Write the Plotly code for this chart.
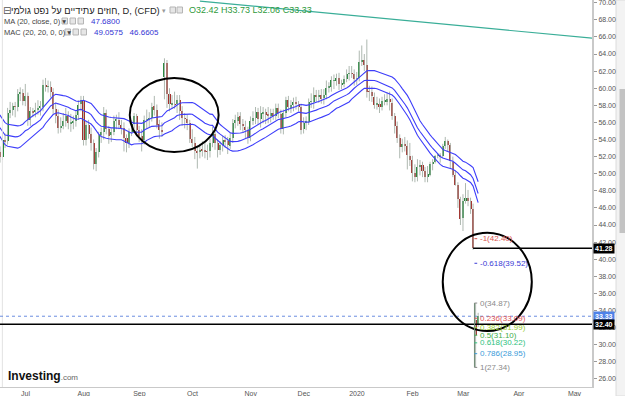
import pandas as pd
import plotly.graph_objects as go

# ---------------- data ----------------
start_day, end_day = "2019-05-17", "2020-03-10"
closed_days = ["2019-12-25", "2020-01-01"]
trade_days = [d for d in pd.bdate_range(start_day, end_day)
              if d.strftime("%Y-%m-%d") not in closed_days]

opens = [
    62.9, 62.8, 63.2, 62.9, 61.3, 57.8, 58.7, 58.9, 59.1, 58.8, 56.4,
    53.4, 53.3, 53.4, 51.6, 52.6, 54.0, 53.2, 53.0, 51.2, 52.3, 52.5, 52.0, 53.9, 53.8, 57.1, 57.5, 57.9, 57.8, 59.4, 59.4,
    58.5, 59.1, 56.3, 57.3, 57.2, 57.5, 57.7, 57.8, 60.4, 60.2, 60.2, 59.6, 57.6, 56.8, 55.3, 55.6, 56.2, 56.8, 55.9, 56.0, 56.2, 56.9, 58.1,
    58.5, 54.0, 55.7, 54.7, 53.6, 51.1, 52.5, 54.5, 54.9, 57.1, 55.2, 54.5, 54.9, 56.2, 56.3, 55.7, 55.4, 54.2, 53.6, 54.9, 55.8, 56.7,
    55.1, 54.4, 53.9, 56.3, 56.3, 56.5, 57.9, 57.4, 55.8, 55.1, 61.3, 62.9, 59.3, 58.1, 58.1, 58.1, 58.6, 57.3, 56.5, 56.4, 55.9,
    54.1, 53.6, 52.6, 52.5, 52.8, 52.8, 52.6, 52.6, 53.6, 54.7, 53.6, 52.8, 53.4, 53.9, 53.8, 53.3, 54.2, 56.0, 56.2, 56.7, 55.8, 55.5, 55.1,
    54.2, 56.2, 56.5, 57.2, 56.4, 57.1, 57.2, 56.9, 56.8, 57.1, 56.8, 57.7, 57.0, 55.2, 57.1, 58.6, 57.8, 58.0, 58.4, 58.1, 57.8,
    55.2, 56.0, 56.1, 58.4, 58.4, 59.2, 59.0, 59.2, 58.8, 59.2, 60.1, 60.2, 60.9, 60.9, 61.2, 60.4, 60.5, 61.1, 61.7, 61.7, 61.7,
    61.1, 61.2, 63.1, 63.3, 62.7, 59.6, 59.6, 59.0, 58.1, 58.2, 57.8, 58.5, 58.5, 58.7, 58.3, 56.7, 55.6, 54.2, 53.1, 53.5, 53.3, 52.1,
    51.6, 50.1, 49.6, 50.8, 51.0, 50.3, 49.6, 49.9, 51.2, 51.4, 52.1, 52.2, 52.1, 53.3, 53.8, 53.4, 51.4, 49.9, 48.7, 47.1,
    44.8, 46.8, 47.2, 46.8, 45.9, 32.9, 32.42,
]
highs = [
    63.6, 63.9, 63.9, 63.3, 61.7, 59.4, 59.5, 60.1, 59.6, 59.3, 56.8,
    54.5, 54.3, 53.9, 53.1, 54.7, 55.1, 53.9, 53.6, 53.8, 53.3, 53.2, 55.0, 54.7, 57.7, 58.4, 58.3, 58.4, 59.9, 60.1, 59.9,
    60.5, 59.5, 57.8, 57.7, 58.3, 58.6, 58.5, 61.0, 61.2, 60.9, 60.8, 60.0, 58.3, 57.5, 56.6, 57.1, 57.7, 57.3, 57.0, 56.8, 57.4, 58.6, 59.1,
    59.1, 56.2, 56.3, 55.4, 54.0, 53.0, 54.9, 55.4, 57.8, 57.5, 55.6, 55.3, 56.8, 56.9, 57.2, 56.3, 56.0, 54.6, 55.3, 56.3, 57.1, 57.0,
    55.6, 55.2, 56.8, 57.5, 57.2, 58.3, 59.1, 58.1, 56.3, 56.0, 63.5, 63.3, 60.0, 59.2, 59.6, 59.2, 59.2, 57.9, 57.1, 56.9, 56.3,
    55.2, 54.3, 53.2, 53.5, 53.8, 53.7, 53.4, 54.1, 55.5, 55.1, 54.0, 53.8, 54.4, 54.5, 54.3, 54.8, 56.4, 56.9, 57.2, 57.2, 56.4, 56.2, 55.5,
    56.7, 57.3, 57.8, 57.7, 57.9, 57.8, 57.6, 57.8, 57.6, 57.6, 58.2, 58.2, 57.5, 57.5, 59.0, 59.1, 58.6, 58.9, 59.0, 58.5, 58.2,
    56.6, 56.7, 58.8, 59.4, 60.1, 59.8, 59.8, 59.9, 59.9, 60.9, 60.7, 61.4, 61.6, 61.7, 61.8, 61.0, 61.5, 62.2, 62.6, 62.6, 62.2,
    61.9, 64.4, 65.0, 64.0, 65.7, 60.3, 60.2, 59.5, 59.0, 58.8, 59.0, 59.3, 59.5, 59.6, 58.8, 57.1, 56.1, 54.6, 54.1, 54.3, 53.9, 53.6,
    52.1, 51.1, 51.7, 51.6, 51.4, 50.8, 50.9, 51.4, 51.7, 52.2, 52.4, 52.4, 53.5, 54.3, 54.0, 53.6, 52.0, 50.4, 49.0, 47.3,
    47.6, 48.9, 48.1, 47.2, 46.5, 34.87, 33.73,
]
lows = [
    62.0, 62.1, 62.3, 60.9, 57.1, 57.3, 58.1, 58.3, 57.9, 56.1, 52.9,
    51.9, 52.0, 50.3, 50.3, 52.1, 52.9, 52.1, 50.4, 50.7, 51.6, 51.3, 51.6, 53.0, 53.4, 56.5, 56.8, 56.6, 57.3, 58.5, 58.0,
    57.9, 55.6, 55.6, 56.6, 56.6, 56.9, 56.8, 57.3, 59.6, 59.5, 58.9, 57.0, 55.9, 54.7, 54.8, 55.2, 55.5, 55.2, 54.9, 55.2, 55.5, 56.3, 57.3,
    53.3, 53.3, 54.1, 52.7, 50.5, 50.3, 51.9, 53.6, 54.0, 54.6, 53.5, 53.7, 54.5, 55.2, 55.2, 54.6, 52.6, 52.5, 53.0, 54.4, 55.2, 54.5,
    53.7, 52.6, 53.4, 55.3, 55.4, 56.1, 56.8, 55.3, 54.1, 54.3, 58.7, 57.7, 57.3, 57.6, 57.6, 57.1, 56.3, 55.6, 55.3, 55.1, 53.6,
    53.1, 51.7, 50.6, 51.8, 52.0, 51.8, 51.6, 51.9, 53.1, 52.8, 51.9, 52.2, 52.6, 53.0, 52.3, 52.9, 53.6, 55.3, 55.6, 55.1, 54.8, 54.1, 53.5,
    53.8, 55.7, 55.8, 55.7, 55.4, 55.9, 55.8, 55.9, 56.0, 56.3, 56.3, 56.5, 54.7, 54.6, 56.6, 57.3, 57.1, 57.3, 57.5, 57.3, 54.6,
    54.7, 55.1, 55.7, 57.7, 57.6, 58.4, 58.3, 58.2, 58.1, 58.7, 59.5, 59.6, 59.9, 60.3, 59.8, 59.9, 60.1, 60.7, 60.9, 61.2, 60.3,
    60.4, 60.8, 62.6, 62.0, 58.9, 58.5, 58.4, 57.6, 57.5, 57.1, 57.4, 58.0, 58.0, 57.4, 56.3, 54.7, 53.6, 51.8, 52.5, 52.6, 50.5, 50.9,
    49.1, 49.0, 49.1, 49.8, 49.6, 49.0, 49.0, 49.7, 50.4, 51.2, 51.8, 51.3, 51.9, 52.9, 52.6, 50.6, 49.6, 48.6, 46.0, 44.0,
    43.3, 46.5, 46.2, 45.3, 41.1, 27.34, 32.06,
]
closes = [
    62.76, 63.10, 62.99, 61.42, 57.91, 58.63, 58.90, 59.14, 58.81, 56.59, 53.50,
    53.25, 53.48, 51.68, 52.59, 53.99, 53.26, 53.27, 51.14, 52.28, 52.51, 51.93, 53.90, 53.76, 57.07, 57.43, 57.90, 57.83, 59.38, 59.43, 58.47,
    59.09, 56.25, 57.34, 57.20, 57.51, 57.66, 57.83, 60.43, 60.20, 60.21, 59.58, 57.62, 56.78, 55.30, 55.63, 56.22, 56.77, 55.88, 56.02, 56.20, 56.87, 58.05, 58.58,
    53.95, 55.66, 54.69, 53.63, 51.09, 52.54, 54.50, 54.93, 57.10, 55.23, 54.47, 54.87, 56.21, 56.34, 55.68, 55.35, 54.17, 53.64, 54.93, 55.78, 56.71, 55.10,
    54.40, 53.94, 56.26, 56.30, 56.52, 57.85, 57.40, 55.75, 55.09, 54.85, 62.90, 59.34, 58.11, 58.13, 58.09, 58.64, 57.29, 56.49, 56.41, 55.91, 54.07,
    53.62, 52.64, 52.45, 52.81, 52.75, 52.63, 52.59, 53.55, 54.70, 53.59, 52.81, 53.36, 53.93, 53.78, 53.31, 54.16, 55.97, 56.23, 56.66, 55.81, 55.54, 55.06, 54.18,
    56.20, 56.54, 57.23, 56.35, 57.15, 57.24, 56.86, 56.80, 57.12, 56.77, 57.72, 57.05, 55.21, 57.11, 58.58, 57.77, 58.01, 58.41, 58.11, 57.80, 55.17,
    55.96, 56.10, 58.43, 58.43, 59.20, 59.02, 59.24, 58.76, 59.18, 60.07, 60.21, 60.94, 60.93, 61.22, 60.44, 60.52, 61.11, 61.68, 61.72, 61.68, 61.06,
    61.18, 63.05, 63.27, 62.70, 59.61, 59.56, 59.04, 58.08, 58.23, 57.81, 58.52, 58.54, 58.70, 58.34, 56.74, 55.59, 54.19, 53.14, 53.48, 53.33, 52.14, 51.56,
    50.11, 49.61, 50.75, 50.95, 50.32, 49.57, 49.94, 51.17, 51.42, 52.05, 52.20, 52.05, 53.29, 53.78, 53.38, 51.43, 49.90, 48.73, 47.09, 44.76,
    46.75, 47.18, 46.78, 45.90, 41.28, 31.13, 33.33,
]
assert len(trade_days) == len(opens) == len(highs) == len(lows) == len(closes)

ma_period = 20
month_starts = ["2019-07-01", "2019-08-01", "2019-09-02", "2019-10-01", "2019-11-01",
                "2019-12-02", "2020-01-02", "2020-02-03", "2020-03-02", "2020-04-01", "2020-05-01"]
month_labels = ["Jul", "Aug", "Sep", "Oct", "Nov", "Dec", "2020", "Feb", "Mar", "Apr", "May"]

x_range = ["2019-06-17 12:00", "2020-05-12 12:00"]
y_range = [25.05, 70.32]

# drawings on the chart
hline_black = [32.40, 41.28]
hline_41_start = "2020-03-06 12:00"
last_price = 33.33
trend_dates = ["2019-10-04 12:00", "2020-05-12 12:00"]
trend_values = [70.2, 65.85]
fib_high, fib_low = 34.87, 27.34
fib_ratios = [-1, -0.618, 0, 0.236, 0.382, 0.5, 0.618, 0.786, 1]
fib_colors = ["#d9534f", "#3a3ad6", "#8a8a8a", "#e05555", "#9acd32", "#3fae49",
              "#2ec27e", "#3a9bd9", "#8a8a8a"]
ellipse1 = dict(x0="2019-08-27 19:00", x1="2019-10-15 22:00", y0=52.54, y1=61.2)
ellipse2 = dict(x0="2020-02-19 12:00", x1="2020-04-08 17:00", y0=31.6, y1=43.1)

# ---------------- derived ----------------
df = pd.DataFrame(dict(d=trade_days, o=opens, h=highs, l=lows, c=closes))
df["x"] = df["d"] + pd.Timedelta(hours=12)
df["ma"] = df["c"].rolling(ma_period).mean()
df["mh"] = df["h"].rolling(ma_period).mean()
df["ml"] = df["l"].rolling(ma_period).mean()
up = df["c"] >= df["o"]
body_base = df[["o", "c"]].min(axis=1)
body_h = (df["c"] - df["o"]).abs().clip(lower=0.06)

wx, wy = [], []
for xv, lo, hi in zip(df["x"], df["l"], df["h"]):
    wx += [xv, xv, None]
    wy += [lo, hi, None]

day_ms = 86400000
fig = go.Figure()
fig.add_trace(go.Scatter(x=wx, y=wy, mode="lines", line=dict(color="#aeb8b0", width=1),
                         hoverinfo="skip", showlegend=False))
fig.add_trace(go.Bar(x=df["x"][up], y=body_h[up], base=body_base[up], width=0.8 * day_ms,
                     marker=dict(color="#23873a", line=dict(width=0)), showlegend=False))
fig.add_trace(go.Bar(x=df["x"][~up], y=body_h[~up], base=body_base[~up], width=0.8 * day_ms,
                     marker=dict(color="#a3302c", line=dict(width=0)), showlegend=False))
for col in ["mh", "ma", "ml"]:
    fig.add_trace(go.Scatter(x=df["x"], y=df[col], mode="lines",
                             line=dict(color="#3d3dfa", width=1.1), showlegend=False))
fig.add_trace(go.Scatter(x=trend_dates, y=trend_values, mode="lines",
                         line=dict(color="#3aae98", width=1.2), showlegend=False))

font = "Liberation Sans, Arial, DejaVu Sans, sans-serif"
shapes = []
shapes.append(dict(type="line", xref="paper", yref="paper", x0=0.004, x1=0.004, y0=0, y1=1,
                   line=dict(color="#e2e2e2", width=1)))
shapes.append(dict(type="line", xref="paper", yref="y", x0=0, x1=1, y0=last_price, y1=last_price,
                   line=dict(color="#6b8ee0", width=1, dash="dot")))
shapes.append(dict(type="line", xref="paper", yref="y", x0=0, x1=1, y0=hline_black[0], y1=hline_black[0],
                   line=dict(color="#000000", width=1.5)))
shapes.append(dict(type="line", xref="x", yref="y", x0=hline_41_start, x1=x_range[1],
                   y0=hline_black[1], y1=hline_black[1], line=dict(color="#000000", width=1.5)))
for e in (ellipse1, ellipse2):
    shapes.append(dict(type="circle", xref="x", yref="y", **e, line=dict(color="#000000", width=2)))

fib_levels = [fib_high - r * (fib_high - fib_low) for r in fib_ratios]
shapes.append(dict(type="line", xref="x", yref="y", x0="2020-03-09 01:00", x1="2020-03-09 01:00",
                   y0=fib_high, y1=fib_low, line=dict(color="#6f8a74", width=1)))
annotations = []
for r, lv, colr in zip(fib_ratios, fib_levels, fib_colors):
    shapes.append(dict(type="line", xref="x", yref="y", x0="2020-03-09 01:00", x1="2020-03-10 03:00",
                       y0=lv, y1=lv, line=dict(color=colr, width=1)))
    annotations.append(dict(x="2020-03-10 08:00", y=lv, xref="x", yref="y", xanchor="left",
                            yanchor="middle", showarrow=False, text=f"{r:g}({lv:.2f})",
                            font=dict(family=font, size=8, color=colr)))

for val, bg in ((hline_black[1], "#000000"), (last_price, "#4f82e8"), (hline_black[0], "#000000")):
    annotations.append(dict(x=1, y=val, xref="paper", yref="y", xanchor="left", yanchor="middle",
                            xshift=1, showarrow=False, text=f"<b>{val:.2f}</b>", bgcolor=bg,
                            borderpad=1, font=dict(family=font, size=7, color="#ffffff")))

W, H = 592.0, 387.0
def px(x):
    return x / W
def py(y):
    return 1 - y / H
shapes.append(dict(type="rect", xref="paper", yref="paper", x0=px(616), x1=px(626), y0=py(396), y1=py(0),
                   fillcolor="#f3f3f3", line=dict(color="#dcdcdc", width=1), layer="below"))
shapes.append(dict(type="rect", xref="paper", yref="paper", x0=px(619.5), x1=px(626), y0=py(233), y1=py(89),
                   fillcolor="#c3c3c3", line=dict(width=0)))

for (x0, yc) in [(170, 10), (177, 10), (62, 21), (70, 21), (78, 21), (65, 32), (73, 32), (81, 32)]:
    shapes.append(dict(type="rect", xref="paper", yref="paper", x0=px(x0), x1=px(x0 + 5.5),
                       y0=py(yc + 3), y1=py(yc - 3), fillcolor="#e6e6e6",
                       line=dict(color="#b5b5b5", width=1)))

def header(text, xpx, ypx, size, color):
    annotations.append(dict(x=0, y=1, xref="paper", yref="paper", xshift=xpx, yshift=-ypx,
                            xanchor="left", yanchor="middle", showarrow=False, text=text,
                            font=dict(family=font, size=size, color=color)))

header("⊟", 1, 10, 10, "#555555")
header("חוזים עתידיים על נפט גולמי, D, (CFD)", 9, 10, 9.3, "#222222")
header("▾", 160, 10, 7, "#999999")
header("O<span style='color:#2f9a3c'>32.42</span> H<span style='color:#2f9a3c'>33.73</span> "
       "L<span style='color:#2f9a3c'>32.06</span> C<span style='color:#2f9a3c'>33.33</span>",
       187, 10, 9, "#2f9a3c")
header("MA (20, close, 0) ▾", 2, 21, 7.5, "#444444")
header("47.6800", 89, 21, 8, "#3434d4")
header("MAC (20, 20, 0, 0) ▾", 2, 32, 7.5, "#444444")
header("49.0575&nbsp;&nbsp;&nbsp;46.6605", 92, 32, 8, "#3434d4")
header("<b>Investing</b><span style='font-size:8px;color:#666666'>.com</span>", 6, 376, 12, "#111111")

fig.update_layout(
    width=625, height=396, margin=dict(l=0, r=33, t=0, b=9),
    paper_bgcolor="#ffffff", plot_bgcolor="#ffffff", barmode="overlay", bargap=0,
    showlegend=False, shapes=shapes, annotations=annotations,
    font=dict(family=font),
    xaxis=dict(type="date", range=x_range,
               rangebreaks=[dict(bounds=["sat", "mon"]), dict(values=closed_days)],
               tickvals=[pd.Timestamp(m) + pd.Timedelta(hours=14) for m in month_starts],
               ticktext=month_labels, showgrid=False, zeroline=False, showline=True,
               linecolor="#c9c9c9", linewidth=1, ticks="", tickfont=dict(size=7, color="#555555"),
               automargin=False, fixedrange=True, ticklabeloverflow="allow"),
    yaxis=dict(side="right", range=y_range, dtick=2, tick0=0, tickformat=".2f",
               showgrid=False, zeroline=False, showline=True, linecolor="#c9c9c9", linewidth=2,
               ticks="outside", ticklen=3, tickcolor="#9a9a9a", ticklabeloverflow="allow",
               tickfont=dict(size=7, color="#555555"), automargin=False, fixedrange=True),
)

fig.write_html("out.html")
